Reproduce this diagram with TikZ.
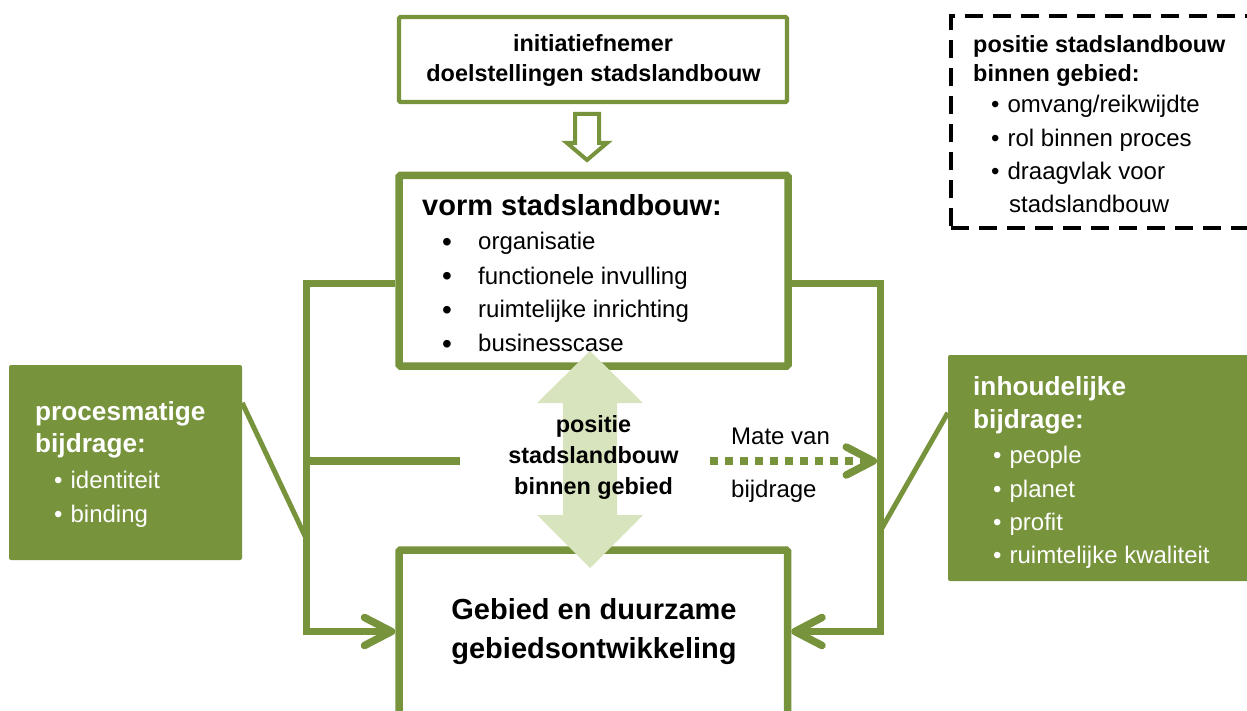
\documentclass[tikz,border=0pt]{standalone}
\usepackage{fontspec}
\setmainfont{Liberation Sans}
\usetikzlibrary{arrows.meta}
\definecolor{grn}{RGB}{119,147,60}
\definecolor{lgrn}{RGB}{216,228,189}
\newcommand\bitem[1]{\textbullet\hspace{8pt}#1}
\begin{document}
\begin{tikzpicture}[x=1pt,y=-1pt,
  bA/.style={font=\bfseries\fontsize{23.4pt}{27pt}\selectfont},
  bB/.style={font=\bfseries\fontsize{26.2pt}{30pt}\selectfont},
  bC/.style={font=\bfseries\fontsize{29pt}{33pt}\selectfont},
  rg/.style={font=\fontsize{24pt}{28pt}\selectfont},
  bul/.style={font=\fontsize{28pt}{28pt}\selectfont},
  txt/.style={inner sep=0pt, anchor=base west},
  ctxt/.style={inner sep=0pt, anchor=base},
  wbox/.style={draw=grn, fill=white, rounded corners=1.5pt, inner sep=0pt},
  gbox/.style={fill=grn, rounded corners=2pt, inner sep=0pt},
  dbox/.style={draw=black, line width=3.3pt, dash pattern=on 18pt off 10pt, inner sep=0pt},
  loopline/.style={draw=grn, line width=7.5pt},
  diag/.style={draw=grn, line width=5pt},
  dotline/.style={draw=grn, line width=7.5pt, dash pattern=on 7.5pt off 7.5pt},
  chev/.tip={Straight Barb[length=27pt, width=28pt, round]},
  wt/.style={text=white},
]
\useasboundingbox (0,0) rectangle (1247,711);

% ---- boxes ----
\node[wbox, line width=4.3pt, minimum width=388pt, minimum height=85pt] (top) at (593,59.5) {};
\node[wbox, line width=7.5pt, minimum width=389pt, minimum height=190.5pt] (vorm) at (593.5,270.75) {};
\node[wbox, line width=7.5pt, minimum width=388.5pt, minimum height=210pt] (gebied) at (593.25,655) {};
\node[gbox, minimum width=233pt, minimum height=195pt] (lbox) at (125.5,462.5) {};
\node[gbox, minimum width=320pt, minimum height=226pt] (rbox) at (1108,468) {};
\node[dbox, minimum width=330pt, minimum height=212pt] (dashbox) at (1116,122) {};

% ---- hollow arrow top -> vorm ----
\coordinate (HA) at (587,114);
\draw[draw=grn, fill=white, line width=4pt]
  (HA) ++(-12,0) -- ++(24,0) -- ++(0,29) -- ++(8,0) -- (587,160) -- (567,143) -- (575,143) -- cycle;

% ---- loop lines ----
\coordinate (L1) at (306.5,283.5);
\coordinate (L2) at (306.5,631.5);
\coordinate (L3) at (306.5,461);
\coordinate (M1) at (460,461);
\coordinate (R1) at (880.5,283.5);
\coordinate (R2) at (880.5,631.5);
\draw[loopline, -chev] (vorm.west |- L1) -- (L1) -- (L2) -- (gebied.west |- L2);
\draw[loopline, -chev] (vorm.east |- R1) -- (R1) -- (R2) -- (gebied.east |- R2);
\draw[loopline] (L3) -- (M1);

% ---- diagonals ----
\coordinate (LD) at (305,536);
\coordinate (RD) at (882,528);
\draw[diag] ([yshift=-38pt]lbox.north east) -- (LD);
\draw[diag] ([yshift=-58pt]rbox.north west) -- (RD);

% ---- dotted arrow ----
\coordinate (D0) at (710,461);
\coordinate (D1) at (877,461);
\draw[dotline, -chev] (D0) -- (D1);

% ---- double arrow ----
\coordinate (DA) at (590,351);
\fill[lgrn] (DA) -- (643,403) -- (617,403) -- (617,515) -- (643,515) -- (590,568)
  -- (537,515) -- (563,515) -- (563,403) -- (537,403) -- cycle;

% ---- texts ----
\node[bA, ctxt] (t1) at (593,52) {initiatiefnemer};
\node[bA, ctxt] (t2) at (593.5,82) {doelstellingen stadslandbouw};

\node[bC, txt] (v0) at (422,216) {vorm stadslandbouw:};
\node[bul, ctxt] (vb1) at (447,252) {\textbullet};
\node[bul, ctxt] (vb2) at (447,286) {\textbullet};
\node[bul, ctxt] (vb3) at (447,319) {\textbullet};
\node[bul, ctxt] (vb4) at (447,353) {\textbullet};
\node[rg, txt] (v1) at (478,250) {organisatie};
\node[rg, txt] (v2) at (478,284) {functionele invulling};
\node[rg, txt] (v3) at (478,317) {ruimtelijke inrichting};
\node[rg, txt] (v4) at (478,351) {businesscase};

\node[bA, ctxt] (c1) at (593.5,432) {positie};
\node[bA, ctxt] (c2) at (593.5,463) {stadslandbouw};
\node[bA, ctxt] (c3) at (593.5,494) {binnen gebied};

\node[rg, txt] (m1) at (731,444) {Mate van};
\node[rg, txt] (m2) at (731,497) {bijdrage};

\node[bC, ctxt] (g1) at (594,619) {Gebied en duurzame};
\node[bC, ctxt] (g2) at (594,658) {gebiedsontwikkeling};

\node[bB, txt, wt] (p0) at (35,420) {procesmatige};
\node[bB, txt, wt] (p1) at (35,452) {bijdrage:};
\node[rg, txt, wt] (p2) at (54,488) {\bitem{identiteit}};
\node[rg, txt, wt] (p3) at (54,522) {\bitem{binding}};

\node[bB, txt, wt] (i0) at (973,395) {inhoudelijke};
\node[bB, txt, wt] (i1) at (973,428) {bijdrage:};
\node[rg, txt, wt] (i2) at (993,463) {\bitem{people}};
\node[rg, txt, wt] (i3) at (993,497) {\bitem{planet}};
\node[rg, txt, wt] (i4) at (993,530) {\bitem{profit}};
\node[rg, txt, wt] (i5) at (993,563) {\bitem{ruimtelijke kwaliteit}};

\node[bA, txt] (d0) at (973,53) {positie stadslandbouw};
\node[bA, txt] (d1) at (973,82) {binnen gebied:};
\node[rg, txt] (d2) at (991,113) {\bitem{omvang/reikwijdte}};
\node[rg, txt] (d3) at (991,147) {\bitem{rol binnen proces}};
\node[rg, txt] (d4) at (991,180) {\bitem{draagvlak voor}};
\node[rg, txt] (d5) at (1009,213) {stadslandbouw};
\end{tikzpicture}
\end{document}
